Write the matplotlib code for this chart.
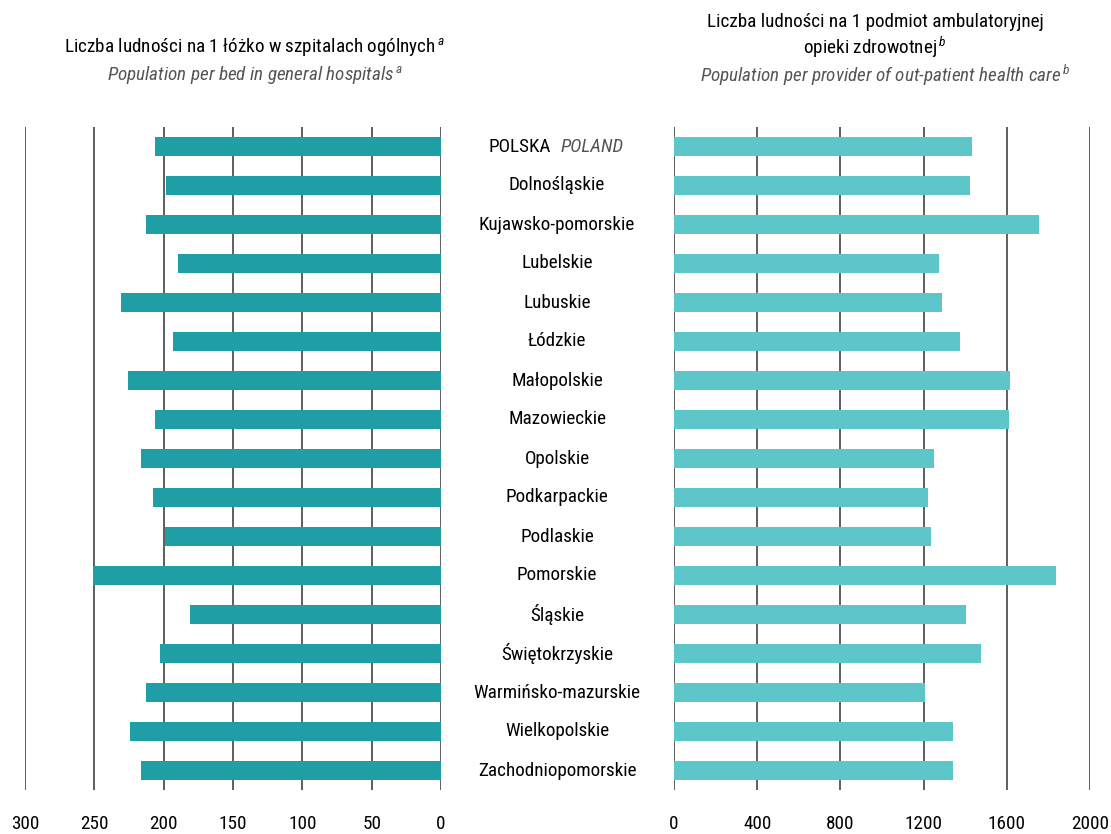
import numpy as np
import matplotlib.pyplot as plt
from matplotlib.transforms import blended_transform_factory

plt.rcParams['font.family'] = ['Roboto Condensed', 'DejaVu Sans']
plt.rcParams['mathtext.fontset'] = 'custom'
plt.rcParams['mathtext.it'] = 'Roboto Condensed:italic'
plt.rcParams['mathtext.rm'] = 'Roboto Condensed'

regions = ["POLSKA", "Dolnośląskie", "Kujawsko-pomorskie", "Lubelskie", "Lubuskie",
           "Łódzkie", "Małopolskie", "Mazowieckie", "Opolskie", "Podkarpackie",
           "Podlaskie", "Pomorskie", "Śląskie", "Świętokrzyskie",
           "Warmińsko-mazurskie", "Wielkopolskie", "Zachodniopomorskie"]
per_bed = [206, 198, 213, 190, 231, 193, 226, 206, 216, 208,
           199, 251, 181, 203, 213, 224, 216]
per_provider = [1433, 1423, 1755, 1274, 1288, 1375, 1615, 1611, 1250, 1221,
                1236, 1837, 1404, 1476, 1207, 1341, 1341]

left_color = "#1f9ea6"
right_color = "#5cc6c9"
grid_color = "#333333"
fs = 13.8

W, H = 1111, 834
fig = plt.figure(figsize=(W / 100, H / 100), dpi=100)

y = np.arange(len(regions))
top, bottom = 127, 790
ax1 = fig.add_axes([25 / W, (H - bottom) / H, 416 / W, (bottom - top) / H])
ax2 = fig.add_axes([674 / W, (H - bottom) / H, 416 / W, (bottom - top) / H])

ax1.barh(y, per_bed, height=0.47, color=left_color, zorder=3)
ax2.barh(y, per_provider, height=0.47, color=right_color, zorder=3)

ax1.set_xlim(300, 0)
ax2.set_xlim(0, 2000)
ax1.set_xticks(np.arange(0, 301, 50))
ax2.set_xticks(np.arange(0, 2001, 400))

for ax in (ax1, ax2):
    ax.set_ylim(len(regions) - 0.5, -0.5)
    ax.set_yticks([])
    for s in ax.spines.values():
        s.set_visible(False)
    for t in ax.get_xticks():
        ax.axvline(t, color=grid_color, lw=1.1, zorder=1)
    ax.tick_params(axis='x', length=0, pad=18, labelsize=fs)

# category labels in the middle
tr = blended_transform_factory(fig.transFigure, ax1.transData)
for i, name in enumerate(regions):
    if i == 0:
        ax1.text(551 / W, i, name, transform=tr, ha='right', va='center',
                 fontsize=fs, color='black')
        ax1.text(561 / W, i, "POLAND", transform=tr, ha='left', va='center',
                 fontsize=fs, color='#555555', style='italic')
    else:
        ax1.text(557 / W, i, name, transform=tr, ha='center', va='center',
                 fontsize=fs, color='black')

# titles
fig.text(255 / W, 1 - 47 / H, r"Liczba ludności na 1 łóżko w szpitalach ogólnych$\,^{a}$",
         ha='center', va='center', fontsize=fs)
fig.text(255 / W, 1 - 75 / H, r"Population per bed in general hospitals$\,^{a}$",
         ha='center', va='center', fontsize=fs, style='italic', color='#555555')
fig.text(875 / W, 1 - 22 / H, "Liczba ludności na 1 podmiot ambulatoryjnej",
         ha='center', va='center', fontsize=fs)
fig.text(875 / W, 1 - 47 / H, r"opieki zdrowotnej$\,^{b}$",
         ha='center', va='center', fontsize=fs)
fig.text(885 / W, 1 - 75 / H, r"Population per provider of out-patient health care$\,^{b}$",
         ha='center', va='center', fontsize=fs, style='italic', color='#555555')

fig.savefig("out.png", dpi=100)
